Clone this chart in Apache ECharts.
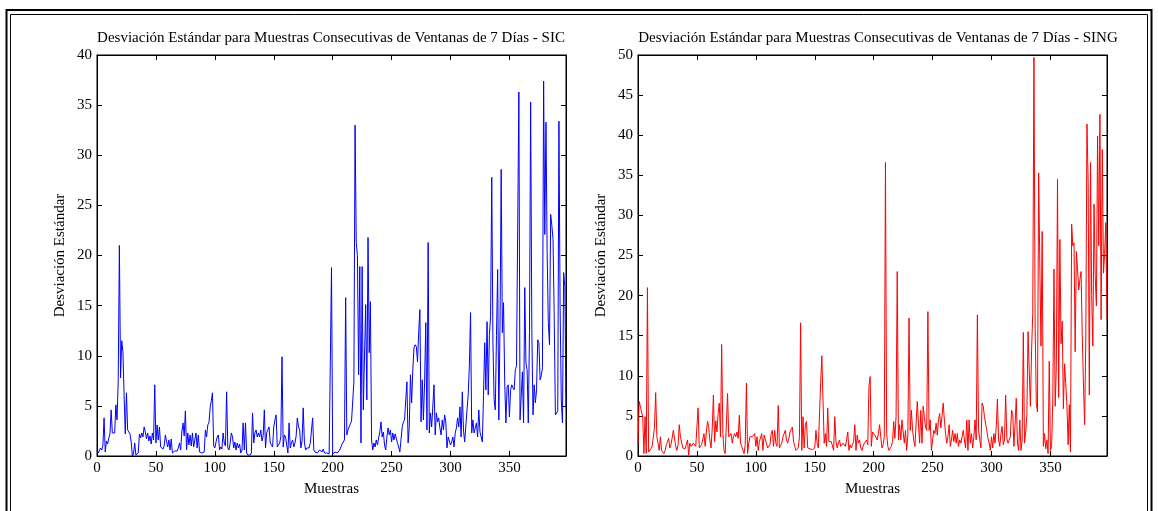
<!DOCTYPE html>
<html>
<head>
<meta charset="utf-8">
<script src="https://cdn.jsdelivr.net/npm/echarts@6/dist/echarts.min.js"></script>
<style>
	html, body { margin: 0; padding: 0; background: #fff; }
	#main { width: 1158px; height: 511px; }
</style>
</head>
<body>
<div id="main"></div>
<script>
// desviación estándar, ventanas de 7 días (muestra 0..398)
var sicValues = [
	0.5, 0.3, 0.4, 0.8, 0.6, 1.0, 3.8, 0.4, 1.5, 1.2,
	1.8, 2.2, 4.6, 2.3, 2.2, 2.3, 5.1, 3.6, 7.5, 21.0,
	7.8, 11.5, 10.4, 6.0, 2.2, 6.3, 2.6, 2.4, 2.2, 1.4,
	0.0, 0.2, 1.3, 0.1, 0.2, 0.3, 2.2, 1.8, 2.3, 1.9,
	2.9, 2.4, 1.7, 2.3, 1.5, 2.0, 1.2, 2.3, 1.6, 7.1,
	1.3, 3.1, 1.6, 2.9, 0.9, 0.8, 0.7, 1.0, 2.1, 1.5,
	0.9, 1.6, 0.6, 1.7, 0.3, 0.4, 0.5, 0.6, 0.5, 0.8,
	1.3, 0.6, 2.4, 3.3, 2.0, 4.5, 0.6, 2.3, 1.1, 2.1,
	1.0, 2.3, 0.9, 1.0, 2.3, 0.8, 2.1, 0.4, 0.3, 0.3,
	0.3, 0.4, 2.6, 1.9, 3.1, 3.3, 4.8, 5.5, 6.3, 1.0,
	0.8, 1.4, 1.9, 2.1, 0.6, 0.9, 0.7, 2.3, 1.3, 1.0,
	6.4, 0.8, 0.6, 1.3, 2.3, 1.9, 0.8, 1.4, 0.6, 1.3,
	0.8, 1.2, 0.3, 0.5, 3.3, 0.6, 3.3, 0.3, 0.1, 0.1,
	0.1, 0.3, 4.3, 1.3, 2.3, 2.6, 1.9, 2.3, 1.9, 2.6,
	1.5, 2.0, 4.6, 0.8, 2.3, 2.6, 2.9, 1.3, 1.1, 0.9,
	2.9, 3.6, 4.1, 0.9, 0.9, 1.3, 1.9, 9.9, 0.9, 2.1,
	1.9, 1.1, 0.3, 3.3, 0.8, 1.3, 1.6, 0.9, 1.3, 2.0,
	3.8, 2.9, 2.6, 0.8, 1.5, 4.8, 1.4, 0.6, 0.8, 0.7,
	0.8, 1.3, 1.2, 3.8, 0.6, 0.4, 0.5, 0.3, 0.4, 0.6,
	0.6, 0.4, 0.7, 0.3, 0.4, 0.3, 0.3, 0.2, 0.1, 18.8,
	0.2, 0.3, 0.4, 0.5, 0.3, 0.4, 0.6, 0.9, 1.2, 1.3,
	1.6, 15.8, 2.1, 2.6, 2.7, 3.2, 3.5, 3.5, 7.4, 33.0,
	21.3, 20.0, 8.1, 18.9, 1.3, 18.9, 4.6, 4.6, 15.1, 5.6,
	21.8, 10.3, 15.4, 1.6, 0.6, 1.3, 0.9, 1.6, 1.1, 1.8,
	2.4, 3.4, 1.9, 2.4, 1.1, 0.6, 1.9, 2.8, 2.1, 2.6,
	1.4, 2.3, 1.6, 2.2, 2.1, 1.3, 0.9, 0.4, 0.5, 2.9,
	3.4, 3.6, 5.6, 7.4, 1.3, 2.9, 8.1, 5.3, 8.6, 10.8,
	11.1, 10.9, 9.4, 12.4, 14.6, 3.4, 7.6, 3.6, 7.3, 13.3,
	2.6, 21.3, 2.3, 4.3, 2.9, 3.0, 7.1, 2.1, 4.3, 3.4,
	3.8, 2.8, 2.1, 3.6, 2.6, 4.1, 3.4, 0.8, 1.9, 1.9,
	1.1, 1.4, 1.9, 0.9, 2.3, 2.8, 3.8, 2.9, 4.9, 1.9,
	6.4, 2.6, 1.4, 3.0, 4.6, 6.1, 9.0, 14.3, 2.3, 3.6,
	2.3, 2.8, 3.3, 1.9, 4.6, 2.4, 2.4, 1.4, 6.0, 11.3,
	6.6, 13.4, 6.1, 12.1, 13.9, 27.8, 11.3, 5.6, 4.6, 12.0,
	18.6, 3.6, 12.9, 28.6, 12.3, 15.3, 7.3, 3.3, 6.9, 7.1,
	3.9, 6.6, 7.1, 6.8, 6.6, 8.6, 9.0, 9.1, 36.3, 3.6,
	6.0, 8.4, 3.3, 16.8, 9.3, 8.6, 3.3, 12.3, 35.3, 12.6,
	4.1, 7.1, 5.3, 6.6, 11.6, 11.3, 7.6, 8.0, 8.8, 37.4,
	22.1, 33.3, 20.3, 13.3, 11.1, 24.1, 23.0, 21.6, 13.9, 4.1,
	4.3, 4.5, 33.4, 14.9, 5.6, 3.3, 18.3, 16.9, 4.9
];

var singValues = [
	1.4, 6.8, 6.2, 5.5, 4.9, 0.3, 4.9, 0.3, 21.0, 0.5,
	0.7, 0.9, 1.2, 1.4, 3.6, 7.9, 2.4, 1.6, 0.7, 2.4,
	0.7, 0.5, 0.3, 0.7, 1.4, 1.8, 2.2, 1.0, 1.4, 1.2,
	3.2, 3.0, 1.2, 0.7, 1.4, 3.9, 2.4, 2.2, 1.0, 1.2,
	0.9, 0.7, 2.0, 0.1, 1.6, 1.2, 1.0, 1.6, 1.8, 1.2,
	1.0, 6.0, 1.0, 1.2, 1.4, 1.6, 2.8, 1.2, 3.0, 4.3,
	3.6, 2.0, 1.0, 3.5, 7.6, 1.8, 4.4, 3.0, 5.3, 6.6,
	2.4, 13.9, 2.8, 0.7, 0.3, 0.1, 7.8, 2.4, 2.6, 2.8,
	1.6, 2.4, 2.8, 2.4, 3.0, 2.2, 5.1, 1.6, 1.2, 1.0,
	0.3, 1.4, 9.1, 0.3, 1.6, 2.4, 2.2, 2.4, 2.2, 2.8,
	1.2, 2.4, 0.7, 1.8, 2.0, 2.8, 0.7, 2.6, 2.4, 1.6,
	1.0, 1.2, 1.4, 2.8, 3.2, 1.2, 3.2, 1.6, 1.2, 6.3,
	1.0, 1.3, 1.6, 2.4, 2.8, 3.2, 2.0, 1.6, 2.2, 3.0,
	3.3, 3.6, 1.8, 1.2, 0.7, 0.7, 1.0, 2.4, 16.6, 0.7,
	4.9, 1.0, 3.9, 4.3, 1.0, 1.0, 0.9, 0.7, 0.8, 1.0,
	1.0, 3.2, 1.6, 1.0, 1.2, 9.1, 12.5, 7.0, 1.6, 2.8,
	1.2, 6.0, 1.8, 1.6, 1.8, 2.0, 0.7, 4.9, 1.8, 1.0,
	1.6, 2.0, 1.2, 1.4, 1.6, 1.8, 1.2, 2.0, 3.0, 0.7,
	1.4, 1.0, 1.4, 1.8, 3.9, 0.7, 2.6, 1.6, 2.0, 1.0,
	0.7, 1.2, 1.6, 1.4, 2.0, 1.4, 8.7, 9.9, 1.2, 3.0,
	2.8, 2.6, 2.4, 2.0, 2.8, 3.9, 2.4, 1.0, 1.4, 2.4,
	36.6, 2.8, 1.2, 0.7, 0.7, 1.2, 1.8, 4.3, 2.2, 4.9,
	23.0, 2.0, 3.9, 2.0, 4.5, 3.0, 1.6, 3.2, 0.7, 2.6,
	17.2, 3.2, 5.7, 3.2, 2.0, 1.2, 4.0, 6.8, 4.1, 1.6,
	5.7, 1.6, 6.2, 4.9, 3.6, 3.2, 18.0, 3.2, 4.5, 0.7,
	2.0, 3.2, 2.8, 4.1, 2.6, 4.5, 5.3, 3.5, 5.0, 6.6,
	4.5, 2.8, 1.6, 2.4, 3.9, 1.2, 2.0, 3.2, 1.8, 2.8,
	1.6, 2.8, 1.2, 2.0, 1.6, 2.4, 3.2, 2.0, 1.0, 4.5,
	0.7, 4.5, 1.6, 2.8, 1.0, 2.4, 4.5, 2.0, 17.6, 3.2,
	3.2, 1.0, 6.6, 6.2, 4.9, 4.0, 3.2, 2.2, 1.6, 0.7,
	2.4, 1.0, 2.8, 1.6, 3.6, 7.1, 2.0, 1.2, 2.8, 3.7,
	1.4, 2.0, 7.6, 2.2, 1.6, 2.0, 2.4, 5.7, 5.3, 1.2,
	4.0, 7.2, 1.6, 0.7, 4.5, 0.7, 2.0, 15.4, 1.6, 3.0,
	5.1, 15.5, 10.7, 6.2, 13.2, 17.8, 49.7, 16.6, 6.6, 5.5,
	35.3, 23.7, 13.7, 28.0, 1.2, 2.8, 0.9, 2.0, 0.3, 11.8,
	0.7, 1.2, 7.0, 23.3, 6.2, 11.2, 34.5, 7.3, 27.0, 14.0,
	16.8, 5.9, 11.5, 9.0, 6.3, 1.4, 6.4, 0.5, 28.9, 26.2,
	26.6, 13.0, 25.5, 23.3, 20.7, 22.0, 23.0, 15.0, 9.1, 3.9,
	14.5, 41.4, 34.1, 7.6, 36.6, 20.0, 13.7, 31.4, 22.4, 18.7,
	39.9, 26.2, 42.6, 17.0, 38.2, 22.8, 25.3, 29.1, 17.0
];

var titles = [
	'Desviación Estándar para Muestras Consecutivas de Ventanas de 7 Días - SIC',
	'Desviación Estándar para Muestras Consecutivas de Ventanas de 7 Días - SING'
];
var xName = 'Muestras';
var yName = 'Desviación Estándar';
var xMax = 398, xStep = 50;
var yMax = [40, 50], yStep = 5;

var font = 'Liberation Serif, Times New Roman, serif';
var fs = 15;

var myChart = echarts.init(document.getElementById('main'), null, { renderer: 'canvas' });

function toPoints(arr) {
	return arr.map(function (v, i) { return [i, v]; });
}

function xAxisFor(g, top) {
	return {
		type: 'value', gridIndex: g, position: top ? 'top' : 'bottom',
		min: 0, max: xMax, interval: xStep,
		axisLine: { show: true, onZero: false, lineStyle: { color: '#000', width: 1 } },
		axisTick: { show: true, inside: true, length: 5, lineStyle: { color: '#000' } },
		axisLabel: { show: !top, showMaxLabel: false, margin: 5, color: '#000', fontFamily: font, fontSize: fs },
		splitLine: { show: false },
		name: top ? '' : xName, nameLocation: 'middle', nameGap: 26,
		nameTextStyle: { color: '#000', fontFamily: font, fontSize: fs }
	};
}

function yAxisFor(g, right) {
	return {
		type: 'value', gridIndex: g, position: right ? 'right' : 'left',
		min: 0, max: yMax[g], interval: yStep,
		axisLine: { show: true, onZero: false, lineStyle: { color: '#000', width: 1 } },
		axisTick: { show: true, inside: true, length: 5, lineStyle: { color: '#000' } },
		axisLabel: { show: !right, margin: 5, color: '#000', fontFamily: font, fontSize: fs },
		splitLine: { show: false },
		name: right ? '' : yName, nameLocation: 'middle', nameGap: 29,
		nameTextStyle: { color: '#000', fontFamily: font, fontSize: fs }
	};
}

var option = {
	animation: false,
	backgroundColor: '#fff',
	title: [
		{ text: titles[0], left: 331, top: 31, textAlign: 'center', padding: 0,
		  textStyle: { color: '#000', fontFamily: font, fontSize: fs, fontWeight: 'normal' } },
		{ text: titles[1], left: 878, top: 31, textAlign: 'center', padding: 0,
		  textStyle: { color: '#000', fontFamily: font, fontSize: fs, fontWeight: 'normal' } }
	],
	grid: [
		{ left: 97, top: 55, width: 469, height: 401, show: true, borderColor: '#000', borderWidth: 1 },
		{ left: 638, top: 55, width: 469, height: 401, show: true, borderColor: '#000', borderWidth: 1 }
	],
	xAxis: [xAxisFor(0, false), xAxisFor(0, true), xAxisFor(1, false), xAxisFor(1, true)],
	yAxis: [yAxisFor(0, false), yAxisFor(0, true), yAxisFor(1, false), yAxisFor(1, true)],
	series: [
		{
			name: 'SIC', type: 'line', xAxisIndex: 0, yAxisIndex: 0,
			symbol: 'none', data: toPoints(sicValues),
			lineStyle: { color: '#0000ff', width: 1 }
		},
		{
			name: 'SING', type: 'line', xAxisIndex: 2, yAxisIndex: 2,
			symbol: 'none', data: toPoints(singValues),
			lineStyle: { color: '#ff0000', width: 1 }
		}
	],
	// marco doble alrededor de la figura
	graphic: [
		{ type: 'rect', silent: true, shape: { x: 6.5, y: 10, width: 1145, height: 520 },
		  style: { fill: 'none', stroke: '#000', lineWidth: 2 } },
		{ type: 'rect', silent: true, shape: { x: 10.5, y: 14.5, width: 1137, height: 520 },
		  style: { fill: 'none', stroke: '#000', lineWidth: 1 } }
	]
};

myChart.setOption(option);
</script>
</body>
</html>
